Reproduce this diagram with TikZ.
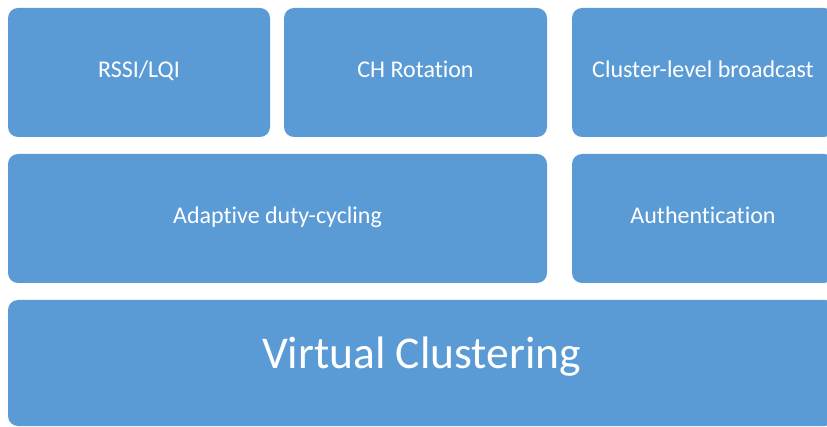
\documentclass[tikz,border=0pt]{standalone}
\usepackage{fontspec}
\setmainfont{Carlito}[Ligatures=NoCommon]
\definecolor{tileblue}{HTML}{5B9BD5}
\begin{document}
\begin{tikzpicture}[x=1pt,y=-1pt,
  tile/.style={fill=tileblue, draw=none, rounded corners=10pt, text=white,
    inner sep=0pt, text height=15.5pt, text depth=4.5pt,
    font=\fontsize{24}{29}\selectfont},
  biglabel/.style={text=white, inner sep=0pt, anchor=base,
    font=\fontsize{45.5}{54}\selectfont}]
  \clip (0,0) rectangle (827,427);
  \useasboundingbox (0,0) rectangle (827,427);
  % top row
  \node[tile, minimum width=262pt, minimum height=129pt] (rssi) at (139,72.5) {RSSI/LQI};
  \node[tile, minimum width=263pt, minimum height=129pt] (ch) at (415.5,72.5) {CH Rotation};
  \node[tile, minimum width=262pt, minimum height=129pt] (bcast) at (703,72.5) {Cluster-level broadcast};
  % middle row
  \node[tile, minimum width=539pt, minimum height=129pt] (duty) at (277.5,218.5) {Adaptive duty-cycling};
  \node[tile, minimum width=262pt, minimum height=129pt] (auth) at (703,218.5) {Authentication};
  % base layer
  \node[tile, minimum width=827pt, minimum height=126pt] (vc) at (421.5,363) {};
  \node[biglabel] (vclabel) at (421.5,369) {Virtual Clustering};
\end{tikzpicture}
\end{document}
